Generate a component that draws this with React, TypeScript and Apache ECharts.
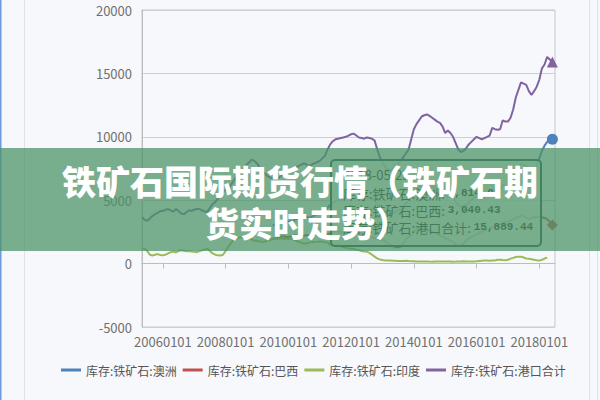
import React, { useEffect, useRef } from "react";
import * as echarts from "echarts";

// Monthly categories 2005-05 .. 2018-07
const startYear = 2005;
const startMonth = 5;
const monthCount = 159;
const categories: string[] = [];
for (let i = 0; i < monthCount; i++) {
  const m = startMonth - 1 + i;
  const y = startYear + Math.floor(m / 12);
  const mm = (m % 12) + 1;
  categories.push(`${y}${String(mm).padStart(2, "0")}01`);
}

const tickLabels = ["20060101", "20080101", "20100101", "20120101", "20140101", "20160101", "20180101"];
const yMin = -5000;
const yMax = 20000;
const yStep = 5000;

const seriesNames = ["库存:铁矿石:澳洲", "库存:铁矿石:巴西", "库存:铁矿石:印度", "库存:铁矿石:港口合计"];
const seriesColors = ["#4f81bd", "#c0504d", "#9bbb59", "#8064a2"];
const seriesSymbols = ["circle", "diamond", "rect", "triangle"];

const none = (n: number) => new Array(n).fill(null);

// 库存:铁矿石:澳洲 (from 2009-07)
const ausValues = ([] as (number | null)[]).concat(
  none(50),
  [3000, 3100, 3200, 3300, 3400, 3300],
  [3300, 3350, 3400, 3500, 3600, 3700, 3800, 3700, 3600, 3700, 3800, 3900],
  [4000, 4100, 4200, 4400, 4600, 4800, 4900, 5000, 5000, 5100, 5200, 5300],
  [5400, 5400, 5300, 5200, 5200, 5100, 5200, 5200, 5100, 5000, 4700, 4400],
  [4200, 4000, 3900, 3900, 4000, 4100, 4200, 4300, 4500, 4700, 5000, 5300],
  [5600, 5800, 6000, 6200, 6300, 6300, 6200, 6100, 6000, 5900, 5800, 5600],
  [5400, 5300, 5400, 5200, 4900, 4600, 4500, 4500, 4600, 4800, 5000, 5200],
  [5300, 5200, 5100, 5200, 5300, 5400, 5800, 5800, 5700, 5800, 6200, 6100],
  [6100, 6300, 6700, 7200, 7500, 7900, 7800, 7700, 7400, 7200, 7400, 7700],
  [8300, 8900, 9300, 9600, 9700, 9814.0, null]
);

// 库存:铁矿石:巴西 (from 2009-07)
const brazilValues = ([] as (number | null)[]).concat(
  none(50),
  [1960, 2000, 2050, 2100, 2150, 2100],
  [2100, 2150, 2200, 2250, 2200, 2150, 2200, 2250, 2200, 2250, 2300, 2250],
  [2200, 2250, 2200, 2300, 2400, 2500, 2600, 2550, 2500, 2450, 2400, 2350],
  [2300, 2350, 2400, 2500, 2400, 2300, 2250, 2200, 2100, 2000, 1950, 1900],
  [1900, 1750, 1600, 1500, 1400, 1300, 1280, 1350, 1600, 1900, 2100, 2300],
  [2500, 2700, 2800, 2900, 2800, 2700, 2600, 2500, 2400, 2300, 2200, 2100],
  [2000, 1900, 1800, 1700, 1550, 1400, 1450, 1600, 1800, 1950, 2100, 2200],
  [2300, 2400, 2500, 2600, 2700, 2800, 2900, 2950, 3000, 3100, 3200, 3300],
  [3300, 3400, 3500, 3600, 3700, 3800, 3700, 3600, 3500, 3600, 3650, 3700],
  [3700, 3650, 3600, 3500, 3300, 3040.43, null]
);

// 库存:铁矿石:印度
const indiaValues = ([] as (number | null)[]).concat(
  [1200, 1150, 1000, 700, 640, 700, 750, 680],
  [650, 700, 800, 900, 950, 880, 1000, 1050, 1020, 980, 1000, 950],
  [940, 900, 980, 1050, 1100, 1180, 1000, 800, 700, 650, 640, 700],
  [1000, 1330, 1600, 1900, 1960, 2050, 2100, 2000, 2050, 2100, 1900, 1800],
  [1800, 1750, 1720, 1750, 1800, 1850, 1960, 1950, 1960, 2000, 1950, 1960],
  [1980, 1950, 1900, 1800, 1720, 1650, 1560, 1600, 1650, 1720, 1700, 1720],
  [1750, 1720, 1700, 1650, 1500, 1400, 1450, 1500, 1400, 1300, 1250, 1200],
  [1180, 1150, 1100, 1050, 1000, 960, 940, 850, 700, 550, 400, 330],
  [280, 250, 235, 240, 230, 220, 210, 200, 210, 220, 200, 190],
  [180, 170, 175, 165, 160, 170, 160, 155, 160, 165, 170, 160],
  [160, 165, 160, 155, 160, 170, 175, 180, 170, 160, 165, 170],
  [180, 200, 220, 240, 235, 230, 235, 240, 300, 310, 280, 270],
  [300, 390, 450, 520, 550, 540, 480, 400, 390, 350, 300, 260],
  [235, 300, 400, 470, null, null, null]
);

// 库存:铁矿石:港口合计
const totalValues = ([] as (number | null)[]).concat(
  [3680, 3450, 3370, 3550, 3760, 3900, 4000, 4150],
  [4150, 4250, 4300, 4200, 4100, 4300, 4150, 3950, 3900, 4050, 4200, 4150],
  [4250, 4300, 4300, 4200, 4100, 4080, 4400, 4700, 4850, 5100, 5400, 5700],
  [5800, 5900, 6200, 6500, 6800, 7000, 7200, 7500, 7800, 8000, 8200, 8100],
  [7900, 7600, 7300, 7100, 6900, 6800, 6700, 6600, 6700, 6900, 7100, 7200],
  [7300, 7400, 7500, 7600, 7700, 7800, 7900, 7800, 7700, 7800, 7900, 8000],
  [8100, 8300, 8500, 9000, 9400, 9650, 9800, 9850, 9900, 9950, 10000, 10100],
  [10200, 10250, 10100, 9950, 9900, 9850, 9950, 9900, 9850, 9700, 9000, 8400],
  [8000, 7600, 7400, 7300, 7500, 7700, 7900, 8100, 8400, 8700, 9000, 9800],
  [10600, 11000, 11300, 11600, 11700, 11760, 11650, 11500, 11350, 11200, 11100, 10800],
  [10300, 10500, 10300, 10000, 9500, 9000, 8800, 8900, 9100, 9400, 9600, 9800],
  [10000, 9900, 9800, 9900, 10000, 10100, 10700, 10600, 10550, 10600, 11300, 11200],
  [11200, 11500, 12150, 13100, 13700, 14300, 14200, 14100, 13600, 13300, 13600, 13950],
  [14500, 15400, 15700, 16300, 16100, 15889.44, null]
);

const allValues = [ausValues, brazilValues, indiaValues, totalValues];
const tooltipDate = "2018-05-25";
const tooltipRows = [0, 1, 3];
const highlightIndex = 157;

const titleLine1 = "铁矿石国际期货行情（铁矿石期";
const titleLine2 = "货实时走势）";

const FONT = '"Noto Sans CJK SC", "Noto Sans", sans-serif';
const MONO = '"Liberation Mono", "DejaVu Sans Mono", monospace';

const fmt = (v: number) =>
  v.toLocaleString("en-US", { minimumFractionDigits: 2, maximumFractionDigits: 2 });

export default function App() {
  const ref = useRef<HTMLDivElement>(null);
  useEffect(() => {
    if (!ref.current) return;
    const chart = echarts.init(ref.current, undefined, { renderer: "svg" });

    const showLabel = (_i: number, v: string) => tickLabels.includes(v);

    const series = seriesNames.map((name, i) => ({
      name,
      type: "line",
      data: allValues[i],
      color: seriesColors[i],
      symbol: seriesSymbols[i],
      showSymbol: true,
      showAllSymbol: true,
      symbolSize: (_v: any, p: any) => (p.dataIndex === highlightIndex ? 11 : 0),
      lineStyle: { width: 2, color: seriesColors[i] },
      itemStyle: { color: seriesColors[i] },
      emphasis: { disabled: true },
      connectNulls: false,
      z: 2,
    }));

    const tipTexts = tooltipRows.map((si, k) => ({
      type: "text",
      x: 343,
      y: 193 + k * 17,
      z: 51,
      style: {
        text: `{l|${seriesNames[si]}: }{v|${fmt(allValues[si][highlightIndex] as number)}}`,
        fill: "#333",
        verticalAlign: "middle",
        rich: {
          l: { fontFamily: FONT, fontSize: 13, color: "#333" },
          v: { fontFamily: MONO, fontSize: 11, fontWeight: "bold", color: "#333" },
        },
      },
    }));

    chart.setOption({
      animation: false,
      backgroundColor: "#f7f8fb",
      textStyle: { fontFamily: FONT },
      grid: {
        left: 142,
        right: 45,
        top: 10,
        bottom: 73,
        show: true,
        borderColor: "#c6c6c6",
        borderWidth: 1,
        backgroundColor: "transparent",
      },
      legend: {
        data: seriesNames,
        icon: "rect",
        itemWidth: 20,
        itemHeight: 3,
        itemGap: 6,
        left: 56,
        top: 359,
        textStyle: { fontSize: 12, color: "#555", fontFamily: FONT },
      },
      xAxis: {
        type: "category",
        data: categories,
        boundaryGap: false,
        axisLine: { show: true, lineStyle: { color: "#bdbdbd" } },
        axisTick: { show: true, interval: showLabel, length: 5, lineStyle: { color: "#bdbdbd" } },
        axisLabel: { interval: showLabel, color: "#707070", fontSize: 13, margin: 8, fontFamily: FONT },
        splitLine: { show: false },
      },
      yAxis: {
        type: "value",
        min: yMin,
        max: yMax,
        interval: yStep,
        axisLine: { show: true, lineStyle: { color: "#bdbdbd" } },
        axisTick: { show: false },
        axisLabel: {
          color: "#707070",
          fontSize: 13,
          margin: 10,
          fontFamily: FONT,
          formatter: (v: number) => String(v),
        },
        splitLine: { show: true, lineStyle: { color: "#cfcfcf" } },
      },
      series,
      graphic: [
        { type: "rect", z: 0, shape: { x: 0, y: 0, width: 1.5, height: 400 }, style: { fill: "#6b9be0" } },
        { type: "rect", z: 0, shape: { x: 24, y: 0, width: 1, height: 400 }, style: { fill: "#e2e2e2" } },
        { type: "rect", z: 0, shape: { x: 589, y: 0, width: 1, height: 400 }, style: { fill: "#e2e2e2" } },
        { type: "rect", z: 0, shape: { x: 597, y: 0, width: 1, height: 400 }, style: { fill: "#e2e2e2" } },
        {
          type: "rect",
          z: 50,
          shape: { x: 331, y: 160, width: 210, height: 86, r: 4 },
          style: { fill: "rgba(250,250,250,0.75)", stroke: "#1b4f4f", lineWidth: 2 },
        },
        {
          type: "text",
          x: 343,
          y: 174,
          z: 51,
          style: { text: tooltipDate, fill: "#333", font: `13px ${FONT}`, verticalAlign: "middle" },
        },
        ...tipTexts,
        {
          type: "rect",
          z: 100,
          shape: { x: 0, y: 148, width: 600, height: 103 },
          style: { fill: "rgba(77,148,104,0.75)" },
        },
        {
          type: "text",
          x: 62,
          y: 180,
          z: 101,
          style: {
            text: titleLine1,
            fill: "#ffffff",
            font: `900 34px ${FONT}`,
            verticalAlign: "middle",
          },
        },
        {
          type: "text",
          x: 205,
          y: 222,
          z: 101,
          style: {
            text: titleLine2,
            fill: "#ffffff",
            font: `900 34px ${FONT}`,
            verticalAlign: "middle",
          },
        },
      ],
    });
    return () => chart.dispose();
  }, []);
  return (
    <div style={{ width: 600, height: 400, position: "fixed", left: 0, top: 0, background: "#f7f8fb" }}>
      <div ref={ref} style={{ width: 600, height: 400 }} />
    </div>
  );
}
